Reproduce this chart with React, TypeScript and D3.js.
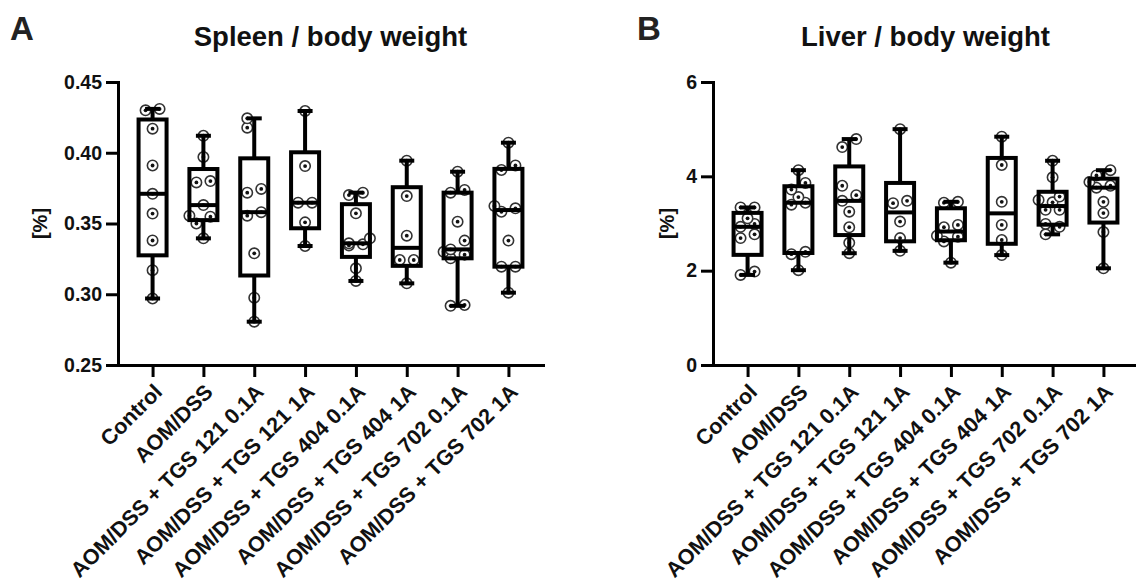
import React, { useEffect, useRef } from "react";
import * as d3 from "d3";

const groups = [
  "Control",
  "AOM/DSS",
  "AOM/DSS + TGS 121 0.1A",
  "AOM/DSS + TGS 121 1A",
  "AOM/DSS + TGS 404 0.1A",
  "AOM/DSS + TGS 404 1A",
  "AOM/DSS + TGS 702 0.1A",
  "AOM/DSS + TGS 702 1A",
];

// spleen / body weight [%]
const spleenControl = [0.431, 0.43, 0.417, 0.391, 0.371, 0.357, 0.338, 0.317, 0.297];
const spleenAomDss = [0.412, 0.397, 0.38, 0.379, 0.363, 0.3555, 0.3548, 0.35, 0.3395];
const spleenTgs121Low = [0.4243, 0.4177, 0.3744, 0.3718, 0.358, 0.3555, 0.3289, 0.2976, 0.2806];
const spleenTgs121High = [0.4295, 0.3906, 0.3647, 0.3647, 0.3508, 0.3341];
const spleenTgs404Low = [0.3718, 0.3701, 0.3572, 0.3395, 0.336, 0.3353, 0.3345, 0.3183, 0.3094];
const spleenTgs404High = [0.3944, 0.3694, 0.3414, 0.3242, 0.3242, 0.3077];
const spleenTgs702Low = [0.3866, 0.3737, 0.3718, 0.3513, 0.3379, 0.3317, 0.33, 0.328, 0.3254, 0.2924, 0.2918];
const spleenTgs702High = [0.4071, 0.391, 0.3878, 0.3624, 0.3607, 0.3583, 0.3379, 0.3195, 0.3195, 0.3011];

// liver / body weight [%]
const liverControl = [3.34, 3.34, 3.11, 2.99, 2.93, 2.77, 2.69, 1.98, 1.91];
const liverAomDss = [4.13, 3.86, 3.72, 3.56, 3.44, 3.4, 2.4, 2.35, 2.01];
const liverTgs121Low = [4.79, 4.62, 3.8, 3.6, 3.48, 3.25, 2.92, 2.59, 2.37];
const liverTgs121High = [5.0, 3.48, 3.43, 3.04, 2.69, 2.42];
const liverTgs404Low = [3.46, 3.44, 2.97, 2.92, 2.74, 2.72, 2.62, 2.17];
const liverTgs404High = [4.84, 4.24, 3.46, 2.97, 2.65, 2.33];
const liverTgs702Low = [4.33, 3.98, 3.57, 3.5, 3.45, 3.29, 3.29, 2.99, 2.93, 2.77];
const liverTgs702High = [4.13, 4.02, 3.88, 3.8, 3.76, 3.46, 3.22, 2.82, 2.05];

const spleenTicks = [0.25, 0.3, 0.35, 0.4, 0.45];
const liverTicks = [0, 2, 4, 6];

const FONT = "'Liberation Sans', Arial, Helvetica, sans-serif";

// quartiles the way Prism computes them: position (n+1)p
function quart(sorted, p) {
  const n = sorted.length;
  const pos = (n + 1) * p;
  const lo = Math.floor(pos);
  const f = pos - lo;
  if (lo < 1) return sorted[0];
  if (lo >= n) return sorted[n - 1];
  return sorted[lo - 1] + f * (sorted[lo] - sorted[lo - 1]);
}

function drawPanel(svg, opts) {
  const { left, right, top, bottom, domain, ticks, fmt, data, title, letter, letterX, labelX } = opts;

  const x = d3.scalePoint().domain(groups).range([left, right]).padding(0.68);
  const y = d3.scaleLinear().domain(domain).range([bottom, top]);

  const g = svg.append("g");

  g.append("text")
    .attr("x", letterX)
    .attr("y", 40)
    .attr("font-size", 33)
    .attr("font-weight", "bold")
    .attr("fill", "#222")
    .text(letter);

  g.append("text")
    .attr("x", (left + right) / 2)
    .attr("y", 46)
    .attr("text-anchor", "middle")
    .attr("font-size", 27.5)
    .attr("font-weight", "bold")
    .attr("fill", "#111")
    .text(title);

  g.append("text")
    .attr("transform", `translate(${labelX},${(top + bottom) / 2}) rotate(-90)`)
    .attr("text-anchor", "middle")
    .attr("dy", "0.35em")
    .attr("font-size", 20)
    .attr("font-weight", "bold")
    .attr("fill", "#111")
    .text("[%]");

  // points go under the box lines, like in the original
  const r = 5.2;
  const h = 7;
  data.forEach((vals, i) => {
    const cx = x(groups[i]);
    const sorted = vals.slice().sort((a, b) => a - b);
    const placed = [];
    sorted.forEach((v) => {
      const py = y(v);
      const crowded = sorted.some((w) => w !== v && Math.abs(y(w) - py) < 10) ||
        sorted.filter((w) => w === v).length > 1;
      const cands = crowded ? [-h, h, 0, -2 * h, 2 * h] : [0, -h, h];
      let dx = cands[0];
      for (const c of cands) {
        if (placed.every((p) => Math.hypot(p.dx - c, p.py - py) >= 9)) {
          dx = c;
          break;
        }
      }
      placed.push({ dx, py });
    });
    const pg = g.append("g");
    pg.selectAll("circle.pt")
      .data(placed)
      .join("circle")
      .attr("class", "pt")
      .attr("cx", (p) => cx + p.dx)
      .attr("cy", (p) => p.py)
      .attr("r", r)
      .attr("fill", "#fff")
      .attr("stroke", "#333")
      .attr("stroke-width", 1.6);
    pg.selectAll("circle.dot")
      .data(placed)
      .join("circle")
      .attr("class", "dot")
      .attr("cx", (p) => cx + p.dx)
      .attr("cy", (p) => p.py)
      .attr("r", 1.9)
      .attr("fill", "#111");
  });

  // boxes and whiskers
  const bw = 28;
  const cap = 15;
  data.forEach((vals, i) => {
    const cx = x(groups[i]);
    const s = vals.slice().sort((a, b) => a - b);
    const q1 = quart(s, 0.25);
    const med = quart(s, 0.5);
    const q3 = quart(s, 0.75);
    const lo = s[0];
    const hi = s[s.length - 1];
    const bg = g.append("g").attr("stroke", "#000").attr("stroke-width", 4).attr("fill", "none");
    bg.append("line").attr("x1", cx).attr("x2", cx).attr("y1", y(hi)).attr("y2", y(q3));
    bg.append("line").attr("x1", cx).attr("x2", cx).attr("y1", y(q1)).attr("y2", y(lo));
    bg.append("line").attr("x1", cx - cap / 2).attr("x2", cx + cap / 2).attr("y1", y(hi)).attr("y2", y(hi));
    bg.append("line").attr("x1", cx - cap / 2).attr("x2", cx + cap / 2).attr("y1", y(lo)).attr("y2", y(lo));
    bg.append("rect")
      .attr("x", cx - bw / 2)
      .attr("y", y(q3))
      .attr("width", bw)
      .attr("height", y(q1) - y(q3));
    bg.append("line").attr("x1", cx - bw / 2).attr("x2", cx + bw / 2).attr("y1", y(med)).attr("y2", y(med));
  });

  // axes
  const yAxis = g.append("g")
    .attr("transform", `translate(${left},0)`)
    .call(d3.axisLeft(y).tickValues(ticks).tickFormat(fmt).tickSize(12).tickSizeOuter(0).tickPadding(4));
  const xAxis = g.append("g")
    .attr("transform", `translate(0,${bottom})`)
    .call(d3.axisBottom(x).tickSize(12).tickSizeOuter(0).tickPadding(4));

  [yAxis, xAxis].forEach((ax) => {
    ax.select(".domain").attr("stroke", "#000").attr("stroke-width", 3).attr("stroke-linecap", "square");
    ax.selectAll(".tick line").attr("stroke", "#000").attr("stroke-width", 3);
    ax.selectAll("text")
      .attr("font-family", FONT)
      .attr("font-weight", "bold")
      .attr("fill", "#111");
  });
  yAxis.selectAll("text").attr("font-size", 19.5);
  xAxis.selectAll("text")
    .attr("font-size", 21.5)
    .attr("y", 0)
    .attr("dy", "0.35em")
    .attr("text-anchor", "end")
    .attr("transform", "translate(5,23) rotate(-45)");
}

export default function App() {
  const ref = useRef(null);

  useEffect(() => {
    const svg = d3.select(ref.current);
    svg.selectAll("*").remove();

    drawPanel(svg, {
      left: 118,
      right: 543,
      top: 82,
      bottom: 365,
      domain: [0.25, 0.45],
      ticks: spleenTicks,
      fmt: d3.format(".2f"),
      data: [
        spleenControl, spleenAomDss, spleenTgs121Low, spleenTgs121High,
        spleenTgs404Low, spleenTgs404High, spleenTgs702Low, spleenTgs702High,
      ],
      title: "Spleen / body weight",
      letter: "A",
      letterX: 10,
      labelX: 40,
    });

    drawPanel(svg, {
      left: 713,
      right: 1138,
      top: 82,
      bottom: 365,
      domain: [0, 6],
      ticks: liverTicks,
      fmt: d3.format("d"),
      data: [
        liverControl, liverAomDss, liverTgs121Low, liverTgs121High,
        liverTgs404Low, liverTgs404High, liverTgs702Low, liverTgs702High,
      ],
      title: "Liver / body weight",
      letter: "B",
      letterX: 637,
      labelX: 667,
    });
  }, []);

  return (
    <svg
      ref={ref}
      width={1136}
      height={587}
      style={{ position: "absolute", left: 0, top: 0, background: "#fff", fontFamily: FONT }}
    />
  );
}
